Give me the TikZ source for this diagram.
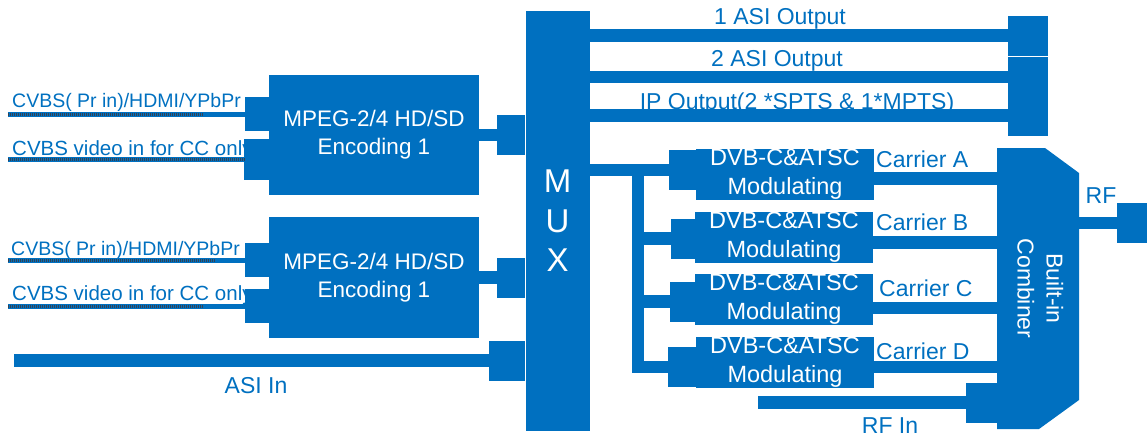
\documentclass[tikz,border=0pt]{standalone}
\usepackage{fontspec}
\setmainfont{Liberation Sans}
\usepackage{graphicx}
\usetikzlibrary{arrows.meta}
\definecolor{blu}{RGB}{0,112,192}
\definecolor{hatch}{RGB}{55,65,80}
\tikzset{
  box/.style={fill=blu, text=white, align=center, inner sep=0pt},
  enc/.style={box, minimum width=210pt, minimum height=120pt, font=\fontsize{22.5}{28}\selectfont},
  modbox/.style={box, minimum width=178pt, minimum height=51pt, font=\fontsize{23.5}{29}\selectfont},
  lbl/.style={text=blu, inner sep=0pt, font=\fontsize{23}{28}\selectfont},
  inlbl/.style={text=blu, inner sep=0pt, font=\fontsize{19.5}{24}\selectfont},
  wire/.style={draw=blu, line width=12.5pt},
  bus/.style={wire, -{Rectangle[length=#1, width=40pt, line width=0pt]}},
  feed/.style={draw=blu, line width=5pt, -{Rectangle[length=24pt, width=34pt, line width=0pt]},
    postaction={draw=hatch, line width=3pt, arrows=-, dash pattern=on 1.2pt off 0.8pt, shorten >=#1}}
}
\begin{document}
\begin{tikzpicture}[x=1pt, y=-1pt]
    \useasboundingbox (0,0) rectangle (1147,439);
    % blocks
    \node[enc] (enc1) at (374,135) {MPEG-2/4 HD/SD\\Encoding 1};
    \node[enc, minimum height=121pt] (enc2) at (374,277.5) {MPEG-2/4 HD/SD\\Encoding 1};
    \node[box, minimum width=64pt, minimum height=420pt, font=\fontsize{33}{39.5}\selectfont] (mux) at (557.5,221) {M\\U\\X};
    \node[modbox] (modA) at (785,174.5) {DVB-C\&ATSC\\Modulating};
    \node[modbox] (modB) at (784,237.5) {DVB-C\&ATSC\\Modulating};
    \node[modbox] (modC) at (784,299.5) {DVB-C\&ATSC\\Modulating};
    \node[modbox] (modD) at (785,362.5) {DVB-C\&ATSC\\Modulating};
    \node[fill=white, inner sep=0pt, minimum width=82pt, minimum height=281pt, text=white,
        font=\fontsize{23}{29}\selectfont,
        path picture={\fill[blu] (path picture bounding box.north west)
            -- ([xshift=-34pt]path picture bounding box.north east)
            -- ([yshift=-25pt]path picture bounding box.north east)
            -- ([yshift=29pt]path picture bounding box.south east)
            -- ([xshift=-40pt]path picture bounding box.south east)
            -- (path picture bounding box.south west) -- cycle;}]
        (comb) at (1038,288.5) {\rotatebox{-90}{\begin{tabular}{@{}c@{}}Built-in\\Combiner\end{tabular}}};
    % labels
    \node[inlbl, anchor=base west] (cv1) at (12,107) {CVBS( Pr in)/HDMI/YPbPr};
    \node[inlbl, anchor=base west, font=\fontsize{20.5}{24}\selectfont] (cc1) at (12,155) {CVBS video in for CC only};
    \node[inlbl, anchor=base west] (cv2) at (11,255) {CVBS( Pr in)/HDMI/YPbPr};
    \node[inlbl, anchor=base west, font=\fontsize{20.5}{24}\selectfont] (cc2) at (12,300.5) {CVBS video in for CC only};
    \node[lbl, anchor=base] (asilbl) at (256,393.5) {ASI In};
    \node[lbl, anchor=base] (o1lbl) at (780,24.5) {1 ASI Output};
    \node[lbl, anchor=base] (o2lbl) at (777,66.5) {2 ASI Output};
    \node[lbl, anchor=base] (o3lbl) at (797,109.5) {IP Output(2 *SPTS \& 1*MPTS)};
    \node[lbl, anchor=base west] (carA) at (876,167) {Carrier A};
    \node[lbl, anchor=base west] (carB) at (876,230) {Carrier B};
    \node[lbl, anchor=base west] (carC) at (879,296) {Carrier C};
    \node[lbl, anchor=base west] (carD) at (876,359) {Carrier D};
    \node[lbl, anchor=base] (rflbl) at (1101,203) {RF};
    \node[lbl, anchor=base] (rfinlbl) at (890,433.5) {RF In};
    % inputs
    \coordinate (in1) at (8,114);
    \coordinate (in2) at (8,159);
    \coordinate (in3) at (8,260);
    \coordinate (in4) at (8,306);
    \coordinate (asi) at (14,360.5);
    \draw[feed=66pt] (in1) -- (in1 -| enc1.west);
    \draw[feed=24pt, -{Rectangle[length=25pt, width=41pt, line width=0pt]}] (in2) -- (in2 -| enc1.west);
    \draw[feed=53pt] (in3) -- (in3 -| enc2.west);
    \draw[feed=66pt] (in4) -- (in4 -| enc2.west);
    \draw[bus=28pt] (enc1.east) -- (enc1.east -| mux.west);
    \draw[bus=28pt] (enc2.east) -- (enc2.east -| mux.west);
    \draw[bus=36pt] (asi) -- (asi -| mux.west);
    % outputs
    \coordinate (out1) at (1048,35.5);
    \coordinate (out2) at (1048,77);
    \coordinate (out3) at (1048,115.5);
    \draw[bus=40pt] (mux.east |- out1) -- (out1);
    \draw[bus=40pt] (mux.east |- out2) -- (out2);
    \draw[bus=40pt] (mux.east |- out3) -- (out3);
    % modulators
    \coordinate (tap) at (638,170);
    \draw[bus=27pt] (mux.east |- tap) -- (tap -| modA.west);
    \draw[wire, line cap=rect] (tap) -- ([yshift=-4.5pt]tap |- modD.west);
    \draw[bus=24pt] ([yshift=-1pt]tap |- modB.west) -- ([yshift=-1pt]modB.west);
    \draw[bus=25pt] ([yshift=-2pt]tap |- modC.west) -- ([yshift=-2pt]modC.west);
    \draw[bus=28pt] ([yshift=-4.5pt]tap |- modD.west) -- ([yshift=-4.5pt]modD.west);
    \draw[wire] ([yshift=-4pt]modA.east) -- ([yshift=-4pt]modA.east -| comb.west);
    \draw[wire] ([yshift=-5pt]modB.east) -- ([yshift=-5pt]modB.east -| comb.west);
    \draw[wire] ([yshift=-8.5pt]modC.east) -- ([yshift=-8.5pt]modC.east -| comb.west);
    \draw[wire] ([yshift=-4.5pt]modD.east) -- ([yshift=-4.5pt]modD.east -| comb.west);
    % rf
    \coordinate (rfin) at (758,402.5);
    \coordinate (rfout) at (1147,223);
    \draw[bus=31pt] (rfin) -- (rfin -| comb.west);
    \draw[bus=30pt] (comb.east |- rfout) -- (rfout);
\end{tikzpicture}
\end{document}
